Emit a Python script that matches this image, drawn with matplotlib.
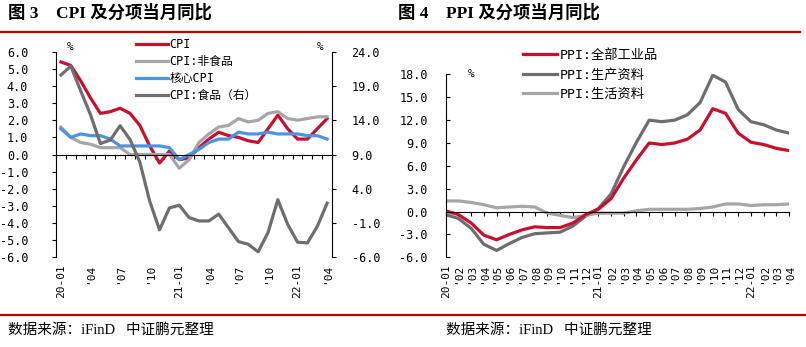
import numpy as np
import matplotlib.pyplot as plt
from matplotlib.lines import Line2D
from matplotlib.ticker import FormatStrFormatter

plt.rcParams['font.family'] = ['DejaVu Sans Mono', 'Noto Sans CJK SC']

# monthly data, 2020-01 .. 2022-04
months = ['2020-01', '2020-02', '2020-03', '2020-04', '2020-05', '2020-06', '2020-07',
          '2020-08', '2020-09', '2020-10', '2020-11', '2020-12', '2021-01', '2021-02',
          '2021-03', '2021-04', '2021-05', '2021-06', '2021-07', '2021-08', '2021-09',
          '2021-10', '2021-11', '2021-12', '2022-01', '2022-02', '2022-03', '2022-04']

cpi = [5.4, 5.2, 4.3, 3.3, 2.4, 2.5, 2.7, 2.4, 1.7, 0.5, -0.5, 0.2, -0.3, -0.2,
       0.4, 0.9, 1.3, 1.1, 1.0, 0.8, 0.7, 1.5, 2.3, 1.5, 0.9, 0.9, 1.5, 2.1]
cpi_nonfood = [1.6, 1.0, 0.7, 0.6, 0.4, 0.4, 0.4, 0.0, 0.0, 0.0, 0.0, 0.0, -0.8, -0.3,
               0.7, 1.2, 1.6, 1.7, 2.1, 1.9, 2.0, 2.4, 2.5, 2.1, 2.0, 2.1, 2.2, 2.2]
core_cpi = [1.5, 1.0, 1.2, 1.1, 1.1, 0.9, 0.5, 0.5, 0.5, 0.5, 0.5, 0.4, -0.3, 0.0,
            0.3, 0.7, 0.9, 0.9, 1.3, 1.2, 1.2, 1.3, 1.2, 1.2, 1.2, 1.1, 1.1, 0.9]
cpi_food = [20.6, 21.9, 18.3, 14.8, 10.6, 11.1, 13.2, 11.2, 7.9, 2.2, -2.0, 1.2, 1.6, -0.2,
            -0.7, -0.7, 0.3, -1.7, -3.7, -4.1, -5.2, -2.4, 2.4, -1.2, -3.8, -3.9, -1.5, 1.9]

ppi = [0.1, -0.4, -1.5, -3.1, -3.7, -3.0, -2.4, -2.0, -2.1, -2.1, -1.5, -0.4, 0.3, 1.7,
       4.4, 6.8, 9.0, 8.8, 9.0, 9.5, 10.7, 13.5, 12.9, 10.3, 9.1, 8.8, 8.3, 8.0]
ppi_producer = [-0.4, -0.9, -2.2, -4.3, -5.1, -4.2, -3.4, -2.9, -2.8, -2.7, -1.9, -0.6, 0.4, 2.3,
                5.9, 9.1, 12.0, 11.8, 12.0, 12.7, 14.3, 17.9, 17.0, 13.4, 11.8, 11.4, 10.7, 10.3]
ppi_consumer = [1.4, 1.4, 1.2, 0.9, 0.5, 0.6, 0.7, 0.6, -0.2, -0.5, -0.8, -0.5, -0.2, -0.2,
                -0.2, 0.1, 0.3, 0.3, 0.3, 0.3, 0.4, 0.6, 1.0, 1.0, 0.8, 0.9, 0.9, 1.0]


def short_label(m):
    y, mo = m.split('-')
    if mo == '01':
        return y[2:] + '-01'
    return "'" + mo


RED = '#C8102E'
LGRAY = '#A6A6A6'
DGRAY = '#6E6E6E'
BLUE = '#4C93E0'
LW = 2.3

fig = plt.figure(figsize=(8.06, 3.47), dpi=100)
x = np.arange(len(months))

# ---------------- left: CPI ----------------
ax = fig.add_axes([0.0695, 0.2585, 0.3425, 0.5925])
ax2 = ax.twinx()
ax.plot(x, cpi, color=RED, lw=LW, label='CPI', solid_joinstyle='round')
ax.plot(x, cpi_nonfood, color=LGRAY, lw=LW, label='CPI:非食品', solid_joinstyle='round')
ax.plot(x, core_cpi, color=BLUE, lw=LW, label='核心CPI', solid_joinstyle='round')
ax2.plot(x, cpi_food, color=DGRAY, lw=LW, label='CPI:食品（右）', solid_joinstyle='round')

ax.set_xlim(-0.5, len(months) - 0.5)
ax.set_ylim(-6, 6)
ax.set_yticks(np.arange(-6, 6.1, 1))
ax.yaxis.set_major_formatter(FormatStrFormatter('%.1f'))
ax2.set_ylim(-6, 24)
ax2.set_yticks(np.arange(-6, 24.1, 5))
ax2.yaxis.set_major_formatter(FormatStrFormatter('%.1f'))

for a in (ax, ax2):
    a.spines['top'].set_visible(False)
ax.spines['right'].set_visible(False)
ax2.spines['left'].set_visible(False)
ax2.spines['bottom'].set_visible(False)
ax.spines['bottom'].set_position(('data', 0))
ax.set_xticks(np.arange(-0.5, len(months), 1))
ax.tick_params(axis='x', direction='out', length=3, labelbottom=False)
ax.tick_params(axis='y', direction='out', length=3, labelsize=8.5, pad=17)
ax2.tick_params(axis='y', direction='out', length=3, labelsize=8.5, pad=11)

sec = ax.secondary_xaxis('bottom')
sec.set_xticks(x[::3])
sec.set_xticklabels([short_label(m) for m in months[::3]], rotation=90, fontsize=8)
sec.tick_params(length=0, pad=5)
sec.spines['bottom'].set_visible(False)

ax.text(0.04, 1.01, '%', transform=ax.transAxes, fontsize=8)
ax.text(0.945, 1.01, '%', transform=ax.transAxes, fontsize=8)

h1, l1 = ax.get_legend_handles_labels()
h2, l2 = ax2.get_legend_handles_labels()
ax2.legend(h1 + h2, l1 + l2, loc='upper left', bbox_to_anchor=(0.29, 1.065), frameon=False,
           fontsize=8.5, handlelength=2.7, handletextpad=0.15, labelspacing=0.33,
           borderpad=0, borderaxespad=0)

# ---------------- right: PPI ----------------
bx = fig.add_axes([0.553, 0.2585, 0.426, 0.527])
bx.plot(x, ppi_producer, color=DGRAY, lw=LW, label='PPI:生产资料', solid_joinstyle='round')
bx.plot(x, ppi_consumer, color=LGRAY, lw=LW, label='PPI:生活资料', solid_joinstyle='round')
bx.plot(x, ppi, color=RED, lw=LW, label='PPI:全部工业品', solid_joinstyle='round')
bx.set_xlim(0, len(months) - 1)
bx.set_ylim(-6, 18)
bx.set_yticks(np.arange(-6, 18.1, 3))
bx.yaxis.set_major_formatter(FormatStrFormatter('%.1f'))
bx.spines['top'].set_visible(False)
bx.spines['right'].set_visible(False)
bx.spines['bottom'].set_position(('data', 0))
bx.set_xticks(x)
bx.tick_params(axis='x', direction='out', length=3, labelbottom=False)
bx.tick_params(axis='y', direction='in', length=3, labelsize=8.5, pad=13)

sec2 = bx.secondary_xaxis('bottom')
sec2.set_xticks(x)
sec2.set_xticklabels([short_label(m) for m in months], rotation=90, fontsize=8)
sec2.tick_params(length=0, pad=5)
sec2.spines['bottom'].set_visible(False)

bx.text(0.065, 1.0, '%', transform=bx.transAxes, fontsize=8, va='center')

hb, lb = bx.get_legend_handles_labels()
order = [2, 0, 1]
bx.legend([hb[i] for i in order], [lb[i] for i in order], loc='upper left',
          bbox_to_anchor=(0.225, 1.14), frameon=False, fontsize=9.5, handlelength=2.6,
          handletextpad=0.15, labelspacing=0.5, borderpad=0, borderaxespad=0)

# ---------------- titles, rules, sources ----------------
title_font = ['Liberation Serif', 'Noto Sans CJK SC']
fig.text(0.01, 0.962, '图 3    CPI 及分项当月同比', fontsize=12.5, fontweight='bold',
         family=title_font, va='center')
fig.text(0.494, 0.962, '图 4    PPI 及分项当月同比', fontsize=12.5, fontweight='bold',
         family=title_font, va='center')
fig.add_artist(Line2D([0, 0.992], [0.909, 0.909], transform=fig.transFigure, color='#C00000', lw=1.6))
fig.add_artist(Line2D([0, 1.0], [0.092, 0.092], transform=fig.transFigure, color='#C00000', lw=1.6))
fig.text(0.01, 0.048, '数据来源：iFinD   中证鹏元整理', fontsize=10.5, family=title_font, va='center')
fig.text(0.553, 0.048, '数据来源：iFinD   中证鹏元整理', fontsize=10.5, family=title_font, va='center')

fig.savefig('out.png', dpi=100)
